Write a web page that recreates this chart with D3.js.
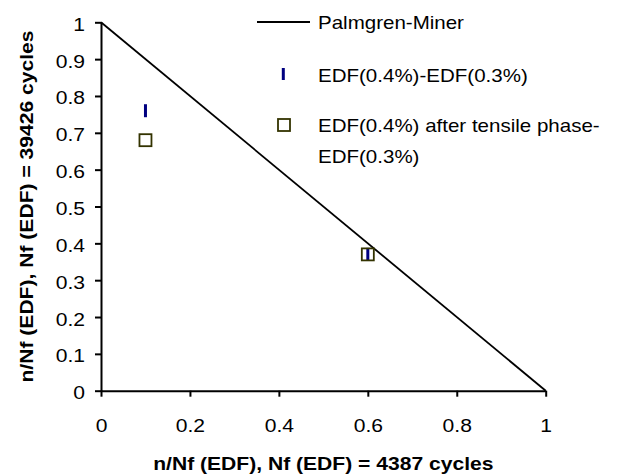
<!DOCTYPE html>
<html>
<head>
<meta charset="utf-8">
<script src="https://cdn.jsdelivr.net/npm/d3@7"></script>
<style>
  html, body { margin: 0; padding: 0; background: #fff; }
  svg { display: block; }
  text { font-family: "Liberation Sans", Arial, sans-serif; fill: #000; }
</style>
</head>
<body>
<svg id="chart" width="627" height="474"></svg>
<script>
// Cumulative damage: fraction of life at the first level vs. fraction at the second level
const xTicks = [0, 0.2, 0.4, 0.6, 0.8, 1];
const yTicks = [0, 0.1, 0.2, 0.3, 0.4, 0.5, 0.6, 0.7, 0.8, 0.9, 1];
const xTickLabels = ["0", "0.2", "0.4", "0.6", "0.8", "1"];
const yTickLabels = ["0", "0.1", "0.2", "0.3", "0.4", "0.5", "0.6", "0.7", "0.8", "0.9", "1"];

// Palmgren-Miner linear rule: n1/Nf1 + n2/Nf2 = 1
const minerX = [0, 1];
const minerY = [1, 0];

// EDF(0.4%) followed by EDF(0.3%)
const seqX = [0.1, 0.6];
const seqY = [0.76, 0.37];

// EDF(0.4%) after tensile phase, followed by EDF(0.3%)
const tensX = [0.1, 0.6];
const tensY = [0.68, 0.37];

const seriesNames = [
  "Palmgren-Miner",
  "EDF(0.4%)-EDF(0.3%)",
  ["EDF(0.4%) after tensile phase-", "EDF(0.3%)"]
];
const xTitle = "n/Nf (EDF), Nf (EDF) = 4387 cycles";
const yTitle = "n/Nf (EDF), Nf (EDF) = 39426 cycles";

const svg = d3.select("#chart");
const plotL = 101, plotR = 545.7, plotT = 22.3, plotB = 390.7;
const SX = 1.14;          // horizontal glyph stretch
const FS = 18.5;

const x = d3.scaleLinear().domain([0, 1]).range([plotL, plotR]);
const y = d3.scaleLinear().domain([0, 1]).range([plotB, plotT]);

// Miner line
svg.append("path")
  .datum(minerX.map((v, i) => [v, minerY[i]]))
  .attr("fill", "none")
  .attr("stroke", "#000")
  .attr("stroke-width", 1.8)
  .attr("d", d3.line().x(d => x(d[0])).y(d => y(d[1])));

// Axes
const xAxis = svg.append("g")
  .attr("transform", `translate(0,${plotB})`)
  .call(d3.axisBottom(x).tickValues(xTicks).tickFormat((d, i) => xTickLabels[i]).tickSize(6).tickSizeOuter(0));
const yAxis = svg.append("g")
  .attr("transform", `translate(${plotL},0)`)
  .call(d3.axisLeft(y).tickValues(yTicks).tickFormat((d, i) => yTickLabels[i]).tickSize(6).tickSizeOuter(0));

[xAxis, yAxis].forEach(g => {
  g.select(".domain").attr("stroke", "#000").attr("stroke-width", 2);
  g.selectAll(".tick line").attr("stroke", "#000").attr("stroke-width", 2);
  g.selectAll(".tick text")
    .attr("font-family", "Liberation Sans, Arial, sans-serif")
    .attr("font-size", FS)
    .attr("fill", "#000");
});
xAxis.selectAll(".tick text")
  .attr("y", 0).attr("dy", 0)
  .attr("transform", `translate(0,41) scale(${SX},1)`);
yAxis.selectAll(".tick text")
  .attr("x", 0).attr("dy", 0)
  .attr("transform", `translate(-16,8) scale(${SX},1)`);

// Bar markers
svg.append("g").selectAll("rect")
  .data(seqX.map((v, i) => [v, seqY[i]]))
  .join("rect")
  .attr("x", d => x(d[0]) - 1.5)
  .attr("y", d => y(d[1]) - 6.5)
  .attr("width", 3)
  .attr("height", 13)
  .attr("fill", "#000080");

// Square markers
svg.append("g").selectAll("rect")
  .data(tensX.map((v, i) => [v, tensY[i]]))
  .join("rect")
  .attr("x", d => x(d[0]) - 6)
  .attr("y", d => y(d[1]) - 6)
  .attr("width", 12)
  .attr("height", 12)
  .attr("fill", "none")
  .attr("stroke", "#333300")
  .attr("stroke-width", 1.8);

// Axis titles
svg.append("text")
  .attr("transform", `translate(${(plotL + plotR) / 2},470) scale(${SX},1)`)
  .attr("text-anchor", "middle")
  .attr("font-size", FS)
  .attr("font-weight", "bold")
  .text(xTitle);
svg.append("text")
  .attr("transform", `translate(33.3,${(plotT + plotB) / 2}) rotate(-90) scale(${SX},1)`)
  .attr("text-anchor", "middle")
  .attr("font-size", FS)
  .attr("font-weight", "bold")
  .text(yTitle);

// Legend
const lg = svg.append("g");
const tx = 318;
lg.append("line")
  .attr("x1", 257).attr("x2", 310).attr("y1", 22).attr("y2", 22)
  .attr("stroke", "#000").attr("stroke-width", 1.8);
lg.append("rect")
  .attr("x", 283.3 - 1.5).attr("y", 68).attr("width", 3).attr("height", 12)
  .attr("fill", "#000080");
lg.append("rect")
  .attr("x", 278).attr("y", 119).attr("width", 12).attr("height", 12)
  .attr("fill", "none").attr("stroke", "#333300").attr("stroke-width", 1.8);

const legendLines = [
  [seriesNames[0], 28.5],
  [seriesNames[1], 81.5],
  [seriesNames[2][0], 131.5],
  [seriesNames[2][1], 162.5]
];
lg.selectAll("text.lbl")
  .data(legendLines)
  .join("text")
  .attr("class", "lbl")
  .attr("transform", d => `translate(${tx},${d[1]}) scale(${SX},1)`)
  .attr("font-size", 18)
  .text(d => d[0]);
</script>
</body>
</html>
